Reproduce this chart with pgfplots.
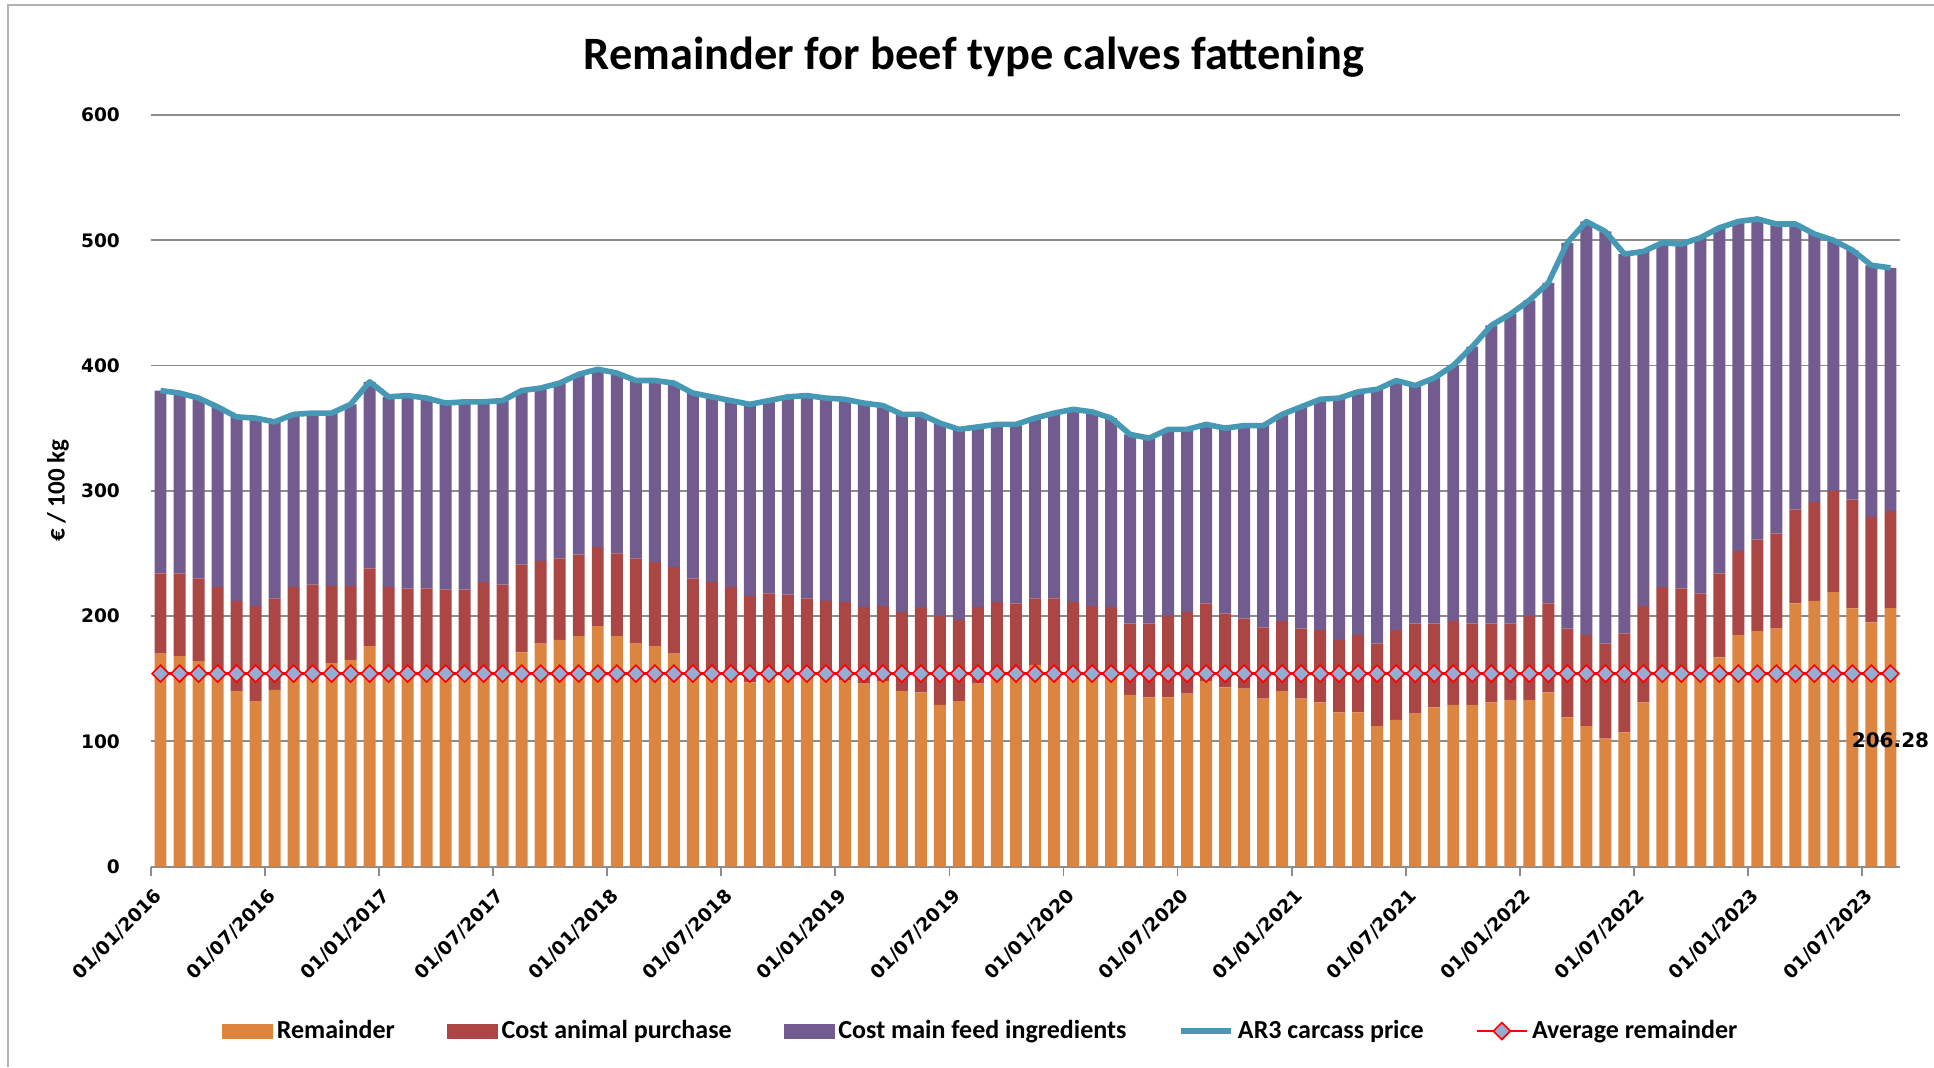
\documentclass[border=0pt]{standalone}
\usepackage{pgfplots}
\pgfplotsset{compat=1.18}
\usepackage{pgfplotstable}
\usepackage{fontspec}
\setmainfont{Carlito}
\newfontfamily\numfont{DejaVu Sans}

\definecolor{orangeC}{HTML}{DC8540}
\definecolor{redC}{HTML}{AB4645}
\definecolor{purpleC}{HTML}{725B8F}
\definecolor{tealC}{HTML}{4699B4}
\definecolor{markC}{HTML}{95ACD3}
\definecolor{gridC}{HTML}{8C8C8C}

% monthly values, 01/2016 - 08/2023 (EUR / 100 kg)
\pgfplotstableread{
x rem anim feed price avg
0 170 64 146 380 154
1 168 66 144 378 154
2 164 66 144 374 154
3 155 68 144 367 154
4 140 72 147 359 154
5 132 76 150 358 154
6 141 73 141 355 154
7 154 69 138 361 154
8 155 70 137 362 154
9 162 62 138 362 154
10 165 59 145 369 154
11 176 62 149 387 154
12 156 67 152 375 154
13 155 67 154 376 154
14 154 68 152 374 154
15 154 67 149 370 154
16 155 66 150 371 154
17 156 71 144 371 154
18 156 69 147 372 154
19 171 70 139 380 154
20 178 66 138 382 154
21 181 65 140 386 154
22 184 65 144 393 154
23 192 63 142 397 154
24 184 66 144 394 154
25 178 68 142 388 154
26 176 67 145 388 154
27 170 69 147 386 154
28 155 75 148 378 154
29 154 73 148 375 154
30 153 70 149 372 154
31 147 69 153 369 154
32 152 66 154 372 154
33 152 65 158 375 154
34 152 62 162 376 154
35 152 60 162 374 154
36 149 62 162 373 154
37 146 61 163 370 154
38 148 60 160 368 154
39 140 63 158 361 154
40 139 68 154 361 154
41 129 71 154 354 154
42 132 65 152 349 154
43 146 61 144 351 154
44 152 59 142 353 154
45 152 58 143 353 154
46 161 53 144 358 154
47 152 62 148 362 154
48 152 59 154 365 154
49 152 56 155 363 154
50 152 55 151 358 154
51 137 57 151 345 154
52 135 59 148 342 154
53 135 65 149 349 154
54 138 65 146 349 154
55 148 62 143 353 154
56 143 59 148 350 154
57 142 56 154 352 154
58 134 57 161 352 154
59 140 56 165 361 154
60 134 56 177 367 154
61 131 58 184 373 154
62 123 58 193 374 154
63 123 62 194 379 154
64 112 66 203 381 154
65 117 72 199 388 154
66 122 72 190 384 154
67 127 67 196 390 154
68 129 67 204 400 154
69 129 65 221 415 154
70 131 63 238 432 154
71 133 61 247 441 154
72 133 67 252 452 154
73 139 71 256 466 154
74 119 71 308 498 154
75 112 73 330 515 154
76 102 76 329 507 154
77 107 79 303 489 154
78 131 77 283 491 154
79 150 73 275 498 154
80 151 71 275 497 154
81 152 66 284 502 154
82 167 67 276 510 154
83 185 67 263 515 154
84 188 73 256 517 154
85 190 76 247 513 154
86 210 75 228 513 154
87 212 79 214 505 154
88 219 81 200 500 154
89 206 87 199 492 154
90 195 84 201 480 154
91 206.28 77.72 194 478 154
}\datatable

\pgfplotsset{
  chartbox/.style={
    width=874.5pt, height=375.75pt, scale only axis,
    at={(75.5pt,100.25pt)}, anchor=south west,
    xmin=-0.5, xmax=91.5, ymin=0, ymax=600,
  },
  barleg/.style={legend image code/.code={\fill[#1] (0pt,-3.5pt) rectangle (25pt,3.5pt);}},
  lineleg/.style={legend image code/.code={\draw[##1] (0pt,0pt) -- (25pt,0pt);}},
  markleg/.style={legend image code/.code={\draw[##1, mark repeat=2, mark phase=2]
    plot coordinates {(0pt,0pt) (12.5pt,0pt) (25pt,0pt)};}},
}

\begin{document}
\begin{tikzpicture}
\useasboundingbox (0,0) rectangle (967pt,533.5pt);
\draw[gray!60, line width=0.8pt] (4pt,0) -- (4pt,531pt) -- (967pt,531pt);

\node[font=\bfseries\fontsize{23.2}{27}\selectfont] at (487pt,505pt)
  {Remainder for beef type calves fattening};

\begin{axis}[
  chartbox,
  ybar stacked,
  bar width=0.63,
  axis x line*=bottom,
  axis y line*=left,
  y axis line style={draw=none},
  x axis line style={gridC, line width=1pt},
  ytick={0,100,...,600},
  ymajorgrids,
  grid style={gridC, line width=0.9pt},
  ytick style={draw=none},
  ytick align=inside,
  xtick align=outside,
  xtick style={gridC, line width=0.9pt},
  major tick length=4.5pt,
  /pgf/number format/assume math mode=true,
  xtick={-0.5,5.5,...,89.5},
  xticklabels={01/01/2016,01/07/2016,01/01/2017,01/07/2017,01/01/2018,01/07/2018,
    01/01/2019,01/07/2019,01/01/2020,01/07/2020,01/01/2021,01/07/2021,
    01/01/2022,01/07/2022,01/01/2023,01/07/2023},
  xticklabel style={rotate=45, anchor=north east, yshift=-1.5pt,
    font=\numfont\bfseries\fontsize{9.3}{11}\selectfont},
  yticklabel style={font=\numfont\bfseries\fontsize{9.3}{11}\selectfont, xshift=-12pt},
  ylabel={€ / 100 kg},
  ylabel style={at={(axis description cs:-0.0532,0.5)}, anchor=center,
    font=\bfseries\fontsize{12.5}{15}\selectfont},
]
\addplot[fill=orangeC, draw=none] table[x=x, y=rem] {\datatable};
\addplot[fill=redC, draw=none] table[x=x, y=anim] {\datatable};
\addplot[fill=purpleC, draw=none] table[x=x, y=feed] {\datatable};
\end{axis}

\begin{axis}[
  chartbox,
  hide axis,
  clip=false,
  legend columns=5,
  legend style={at={(0.475,-0.219)}, anchor=center, draw=none, fill=none,
    font=\bfseries\fontsize{13}{15.6}\selectfont,
    /tikz/every even column/.append style={column sep=24pt}},
]
\addlegendimage{barleg=orangeC}
\addlegendentry{Remainder}
\addlegendimage{barleg=redC}
\addlegendentry{Cost animal purchase}
\addlegendimage{barleg=purpleC}
\addlegendentry{Cost main feed ingredients}

\addplot[tealC, line width=2.8pt, line join=round, no markers, lineleg]
  table[x=x, y=price] {\datatable};
\addlegendentry{AR3 carcass price}

\addplot[red, line width=1.2pt, mark=square*, mark size=3pt,
  mark options={rotate=45, fill=markC, draw=red, line width=0.8pt}, markleg]
  table[x=x, y=avg] {\datatable};
\addlegendentry{Average remainder}

\node[font=\numfont\bfseries\fontsize{10}{12}\selectfont] at (axis cs:91,101) {206.28};
\end{axis}
\end{tikzpicture}
\end{document}
